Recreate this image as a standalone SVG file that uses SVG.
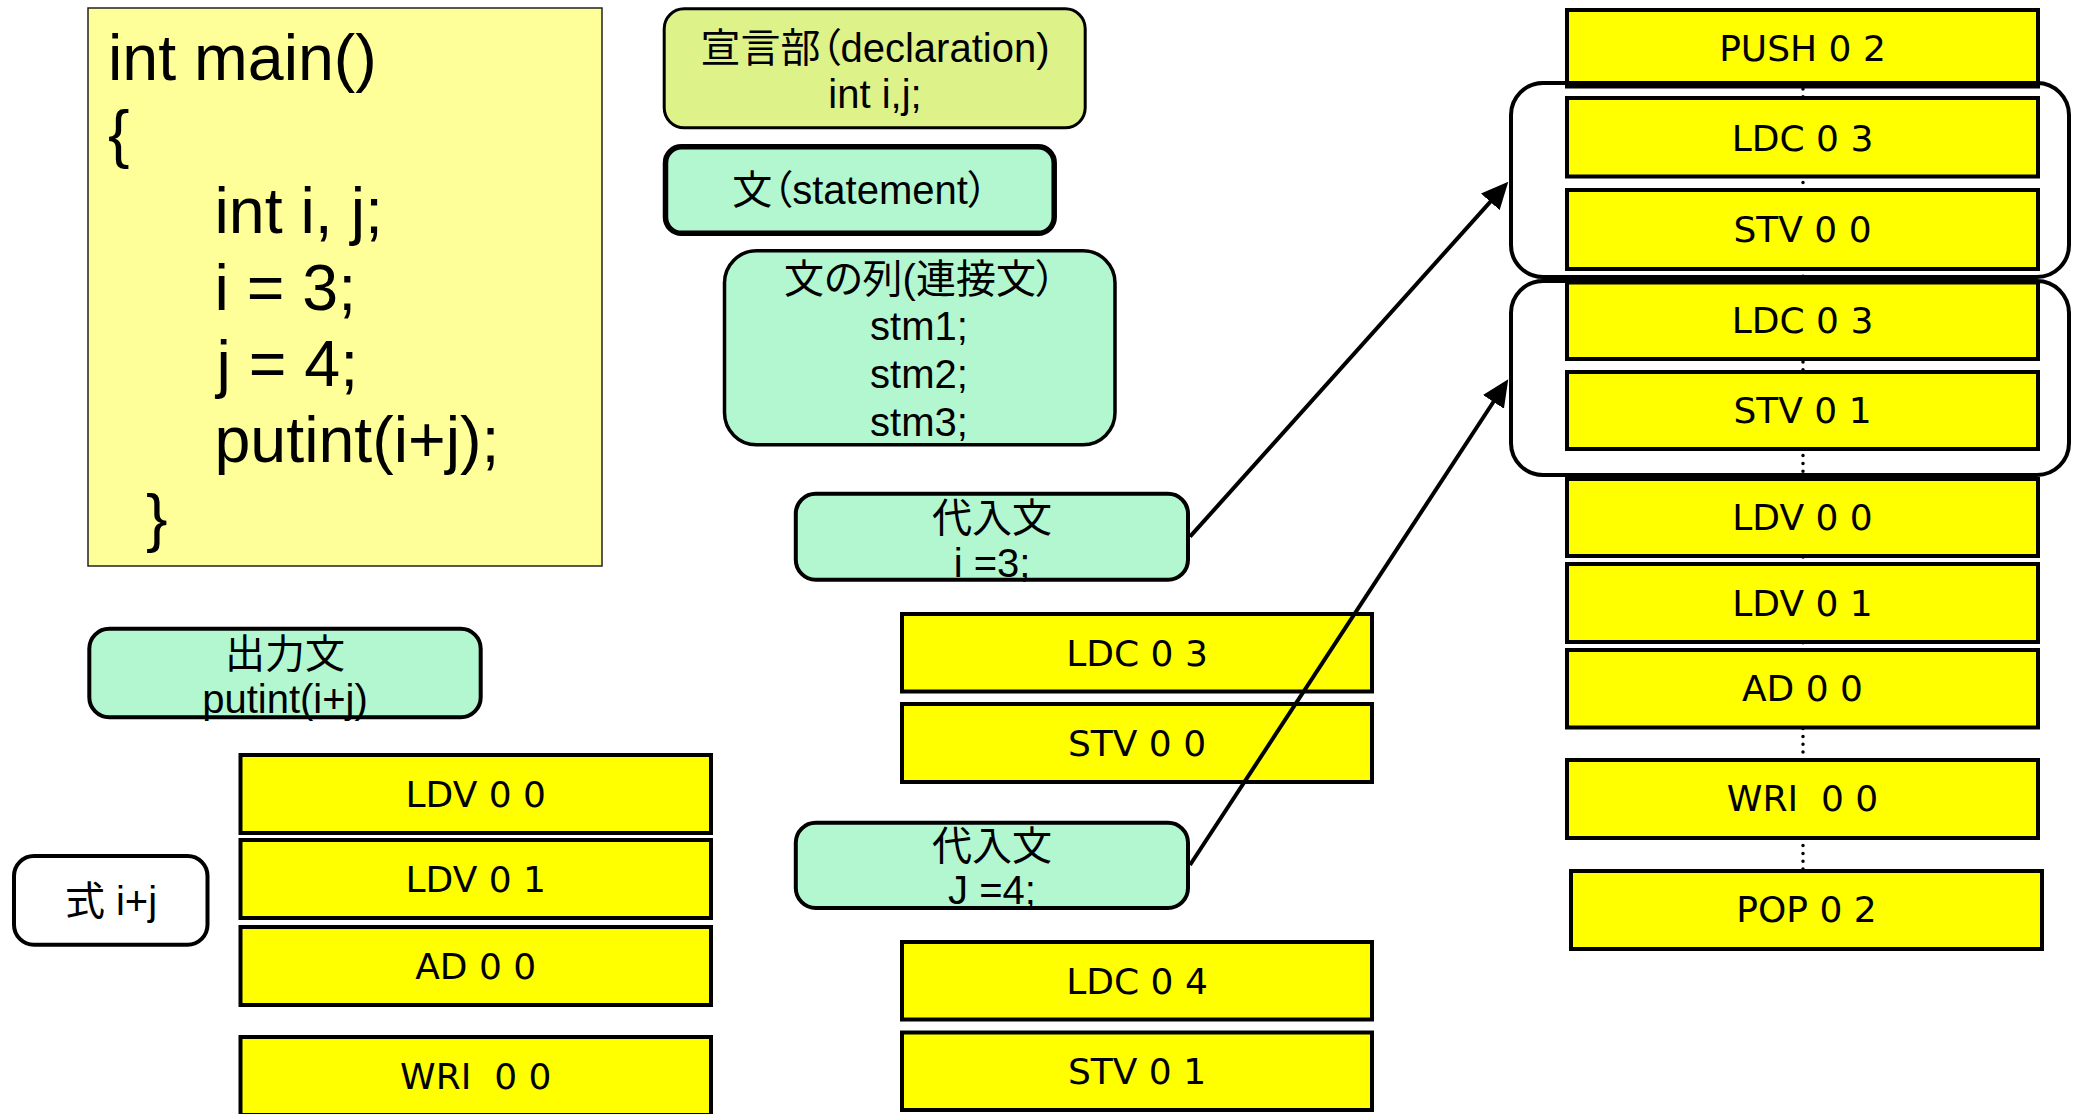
<svg xmlns="http://www.w3.org/2000/svg" width="2078" height="1114" viewBox="0 0 2078 1114">
<style>
.code{font-family:"Liberation Sans",Arial,sans-serif;font-size:64.5px;fill:#000}
.lbl{font-family:"Liberation Sans","Noto Sans CJK JP",sans-serif;font-size:40px;text-anchor:middle;font-feature-settings:"palt";fill:#000}
.ins{font-family:"DejaVu Sans",sans-serif;font-size:36px;text-anchor:middle;fill:#000;white-space:pre}
.ybox{fill:#ffff00;stroke:#000;stroke-width:4}
.mint{fill:#b3f7d1;stroke:#000;stroke-width:4}
.brk{fill:none;stroke:#000;stroke-width:4}
.conn{stroke:#000;stroke-width:4;fill:none}
</style>
<defs>
<marker id="arrow" markerUnits="userSpaceOnUse" markerWidth="28" markerHeight="26" refX="7" refY="12.5" orient="auto">
<path d="M0,0 L27,12.5 L0,25 z" fill="#000"/>
</marker>
</defs>
<rect width="2078" height="1114" fill="#fff"/>

<g id="code">
<rect x="88" y="8" width="514" height="558" fill="#ffff99" stroke="#222" stroke-width="1.5"/>
<text class="code" x="108" y="80">int main()</text>
<text class="code" x="108" y="156">{</text>
<text class="code" x="214.5" y="233">int i, j;</text>
<text class="code" x="214.5" y="310">i = 3;</text>
<text class="code" x="216.5" y="386">j = 4;</text>
<text class="code" x="214.5" y="462">putint(i+j);</text>
<text class="code" x="146" y="540">}</text>
</g>

<g id="declaration">
<rect x="664.2" y="8.8" width="421" height="119" rx="20" fill="#def28a" stroke="#000" stroke-width="3"/>
<text class="lbl" x="875" y="62">宣言部（declaration)</text>
<text class="lbl" x="875" y="108">int i,j;</text>
</g>

<g id="statement">
<rect x="665.5" y="146.8" width="388.7" height="86.5" rx="16" fill="#b3f7d1" stroke="#000" stroke-width="5.5"/>
<text class="lbl" x="860" y="204">文（statement）</text>
</g>

<g id="sequence">
<rect x="724.5" y="250.8" width="390.5" height="194" rx="32" fill="#b3f7d1" stroke="#000" stroke-width="3.5"/>
<text class="lbl" x="920" y="293">文の列(連接文）</text>
<text class="lbl" x="919" y="340">stm1;</text>
<text class="lbl" x="919" y="388">stm2;</text>
<text class="lbl" x="919" y="436">stm3;</text>
</g>

<g id="assign1">
<rect class="mint" x="795.8" y="493.7" width="392.2" height="86" rx="20"/>
<text class="lbl" x="992" y="532">代入文</text>
<text class="lbl" x="992" y="577">i =3;</text>
</g>

<g id="assign2">
<rect class="mint" x="795.8" y="822.7" width="392.2" height="85.3" rx="20"/>
<text class="lbl" x="992" y="860">代入文</text>
<text class="lbl" x="992" y="904">J =4;</text>
</g>

<g id="output">
<rect class="mint" x="89.3" y="628.7" width="391.4" height="88.6" rx="20"/>
<text class="lbl" x="285" y="668">出力文</text>
<text class="lbl" x="285" y="713">putint(i+j)</text>
</g>

<g id="expr">
<rect x="14" y="856" width="193.5" height="88.7" rx="20" fill="#fff" stroke="#000" stroke-width="4"/>
<text class="lbl" x="111" y="915">式 i+j</text>
</g>

<g id="left-code">
<g id="l-ldv00"><rect class="ybox" x="240.5" y="755" width="470.5" height="78"/><text class="ins" x="475.75" y="807">LDV 0 0</text></g>
<g id="l-ldv01"><rect class="ybox" x="240.5" y="840" width="470.5" height="78"/><text class="ins" x="475.75" y="892">LDV 0 1</text></g>
<g id="l-ad00"><rect class="ybox" x="240.5" y="927" width="470.5" height="78"/><text class="ins" x="475.75" y="979">AD 0 0</text></g>
<g id="l-wri00"><rect class="ybox" x="240.5" y="1037" width="470.5" height="78"/><text class="ins" x="475.75" y="1089" xml:space="preserve">WRI  0 0</text></g>
</g>

<g id="mid-code">
<g id="m-ldc03"><rect class="ybox" x="902" y="614" width="470" height="77.5"/><text class="ins" x="1137" y="666">LDC 0 3</text></g>
<g id="m-stv00"><rect class="ybox" x="902" y="704" width="470" height="78"/><text class="ins" x="1137" y="756">STV 0 0</text></g>
<g id="m-ldc04"><rect class="ybox" x="902" y="942" width="470" height="77.5"/><text class="ins" x="1137" y="994">LDC 0 4</text></g>
<g id="m-stv01"><rect class="ybox" x="902" y="1032.5" width="470" height="77.5"/><text class="ins" x="1137" y="1084">STV 0 1</text></g>
</g>

<g id="right-code">
<line x1="1803" y1="89" x2="1803" y2="870" stroke="#000" stroke-width="3.5" stroke-dasharray="0 7.8" stroke-linecap="round"/>
<g id="r-push02"><rect class="ybox" x="1567" y="10" width="471" height="76.5"/><text class="ins" x="1802.5" y="61">PUSH 0 2</text></g>
<g id="r-ldc03a"><rect class="ybox" x="1567" y="98" width="471" height="78.5"/><text class="ins" x="1802.5" y="151">LDC 0 3</text></g>
<g id="r-stv00"><rect class="ybox" x="1567" y="190" width="471" height="79"/><text class="ins" x="1802.5" y="242">STV 0 0</text></g>
<g id="r-ldc03b"><rect class="ybox" x="1567" y="282.5" width="471" height="76.5"/><text class="ins" x="1802.5" y="333">LDC 0 3</text></g>
<g id="r-stv01"><rect class="ybox" x="1567" y="372" width="471" height="77"/><text class="ins" x="1802.5" y="423">STV 0 1</text></g>
<g id="r-ldv00"><rect class="ybox" x="1567" y="479" width="471" height="77"/><text class="ins" x="1802.5" y="530">LDV 0 0</text></g>
<g id="r-ldv01"><rect class="ybox" x="1567" y="564" width="471" height="78"/><text class="ins" x="1802.5" y="616">LDV 0 1</text></g>
<g id="r-ad00"><rect class="ybox" x="1567" y="650" width="471" height="77.5"/><text class="ins" x="1802.5" y="701">AD 0 0</text></g>
<g id="r-wri00"><rect class="ybox" x="1567" y="760" width="471" height="78"/><text class="ins" x="1802.5" y="811" xml:space="preserve">WRI  0 0</text></g>
<g id="r-pop02"><rect class="ybox" x="1571" y="871" width="471" height="78"/><text class="ins" x="1806.5" y="922">POP 0 2</text></g>
<rect id="bracket-i" class="brk" x="1511" y="83" width="558" height="194" rx="32"/>
<rect id="bracket-j" class="brk" x="1511" y="281" width="558" height="194" rx="32"/>
</g>

<g id="connectors">
<path class="conn" d="M1190,536.7 L1494.95,196.6" marker-end="url(#arrow)"/>
<path class="conn" d="M1190,865 L1497.3,396" marker-end="url(#arrow)"/>
</g>
</svg>
